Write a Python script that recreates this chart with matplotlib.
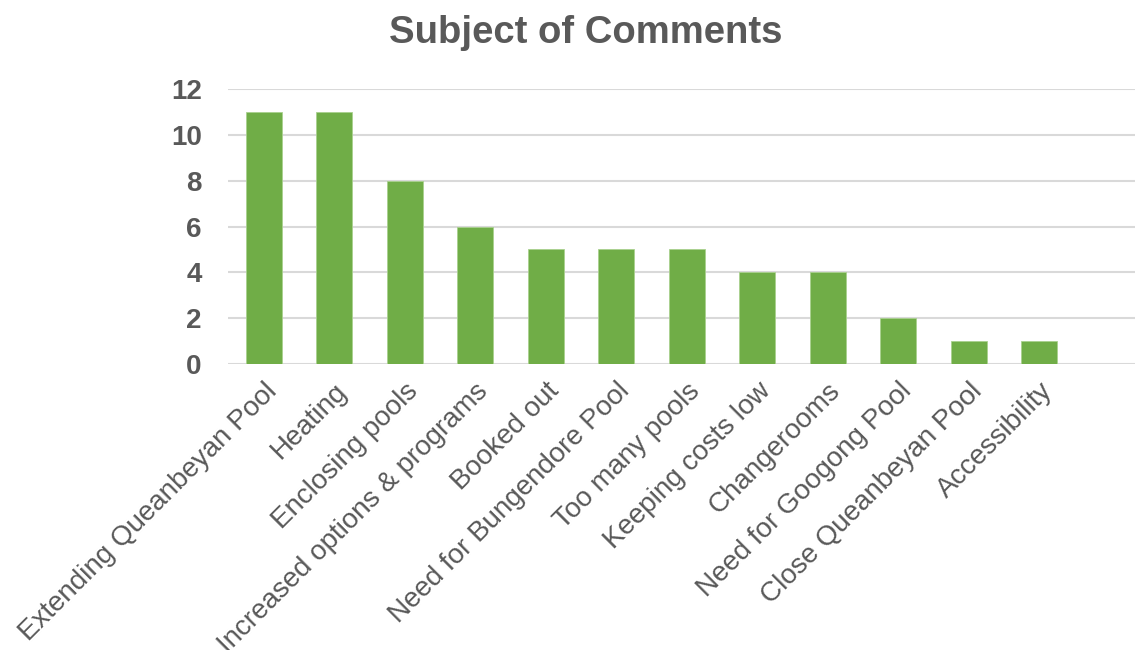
import matplotlib
matplotlib.use("Agg")
from matplotlib import pyplot as plt

subjects = ['Extending Queanbeyan Pool', 'Heating', 'Enclosing pools',
            'Increased options & programs', 'Booked out',
            'Need for Bungendore Pool', 'Too many pools', 'Keeping costs low',
            'Changerooms', 'Need for Googong Pool', 'Close Queanbeyan Pool',
            'Accessibility']
counts = [11, 11, 8, 6, 5, 5, 5, 4, 4, 2, 1, 1]
y_ticks = [0, 2, 4, 6, 8, 10, 12]

plt.rcParams['font.family'] = ['Liberation Sans', 'DejaVu Sans']
grey = '#595959'

fig = plt.figure(figsize=(11.35, 6.5), dpi=100)
ax = fig.add_axes([0.2009, 0.44, 0.799, 0.423])

ax.bar(range(len(subjects)), counts, width=0.51, color='#70AD47',
       edgecolor='#A9D18E', linewidth=0.6, zorder=3)

ax.set_xlim(-0.506, 12.36)
ax.set_ylim(0, 12)
ax.set_yticks(y_ticks)
ax.set_yticklabels([str(v) for v in y_ticks], fontsize=20, fontweight='bold', color=grey)
ax.set_xticks(range(len(subjects)))
ax.set_xticklabels(subjects, rotation=45, ha='right', rotation_mode='anchor',
                   fontsize=20, color=grey)
ax.tick_params(axis='both', length=0)
ax.tick_params(axis='y', pad=19)
ax.tick_params(axis='x', pad=10)

ax.grid(axis='y', color='#D9D9D9', linewidth=1.5, zorder=0)
for s in ax.spines.values():
    s.set_visible(False)

fig.text(0.516, 0.949, 'Subject of Comments', ha='center', va='center',
         fontsize=27.5, fontweight='bold', color=grey)

fig.savefig('out.png', dpi=100)
